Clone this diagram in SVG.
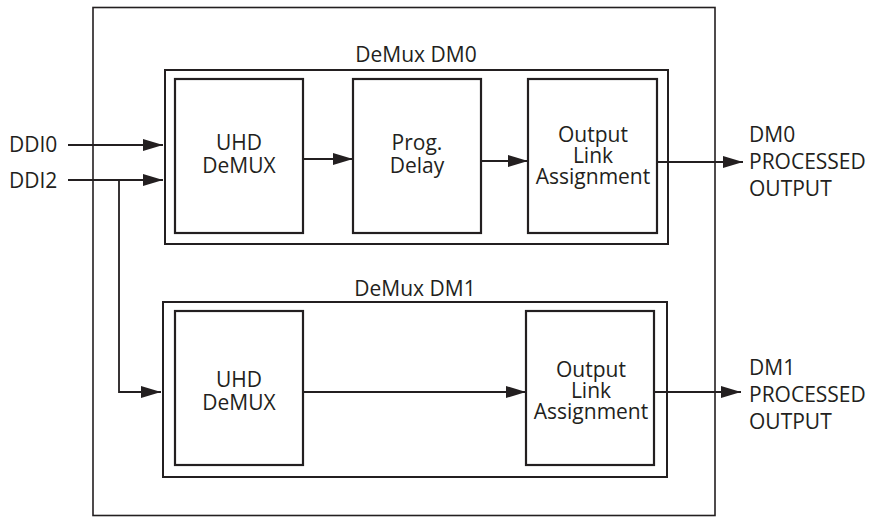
<svg xmlns="http://www.w3.org/2000/svg" width="869" height="517" viewBox="0 0 869 517">
<defs>
<style>
text{font-family:"Open Sans","Liberation Sans",sans-serif;font-size:21px;fill:#231f20}
.c{text-anchor:middle}
.outer{fill:none;stroke:#231f20;stroke-width:1.6}
.grp{fill:none;stroke:#231f20;stroke-width:2}
.blk{fill:#fff;stroke:#231f20;stroke-width:2.2}
.wire{fill:none;stroke:#231f20;stroke-width:1.8}
</style>
<marker id="ah" markerUnits="userSpaceOnUse" markerWidth="20" markerHeight="12" refX="20" refY="6" orient="auto">
<path d="M0,0 L20,6 L0,12 z" fill="#231f20"/>
</marker>
</defs>
<rect width="869" height="517" fill="#fff"/>
<g id="system"><rect class="outer" x="93" y="7.5" width="622" height="508"/></g>
<g id="dm0">
<rect class="grp" x="165" y="70" width="503" height="174"/>
<text class="c" x="416" y="62">DeMux DM0</text>
</g>
<g id="dm0-uhd"><rect class="blk" x="175" y="79" width="128" height="154"/><text class="c" x="239" y="150">UHD</text><text class="c" x="239" y="173">DeMUX</text></g>
<g id="dm0-delay"><rect class="blk" x="353" y="79" width="128" height="154"/><text class="c" x="417" y="150">Prog.</text><text class="c" x="417" y="173">Delay</text></g>
<g id="dm0-out"><rect class="blk" x="528" y="79" width="129" height="154"/><text class="c" x="593" y="142">Output</text><text class="c" x="593" y="163">Link</text><text class="c" x="593" y="184">Assignment</text></g>
<g id="dm1">
<rect class="grp" x="163" y="302" width="504" height="175"/>
<text class="c" x="415" y="296">DeMux DM1</text>
</g>
<g id="dm1-uhd"><rect class="blk" x="175" y="311" width="128" height="154"/><text class="c" x="239" y="387">UHD</text><text class="c" x="239" y="410">DeMUX</text></g>
<g id="dm1-out"><rect class="blk" x="526" y="311" width="128" height="154"/><text class="c" x="591" y="377">Output</text><text class="c" x="591" y="398">Link</text><text class="c" x="591" y="419">Assignment</text></g>
<g id="ddi0"><text x="9" y="152">DDI0</text></g>
<g id="ddi2"><text x="9" y="188">DDI2</text></g>
<g id="out0"><text x="749" y="142">DM0</text><text x="749" y="169">PROCESSED</text><text x="749" y="196">OUTPUT</text></g>
<g id="out1"><text x="749" y="375">DM1</text><text x="749" y="402">PROCESSED</text><text x="749" y="429">OUTPUT</text></g>
<g id="connectors">
<path class="wire" d="M68,145 H163" marker-end="url(#ah)"/>
<path class="wire" d="M68,180 H163" marker-end="url(#ah)"/>
<path class="wire" d="M119,180 V392 H161" marker-end="url(#ah)"/>
<path class="wire" d="M303,159 H353" marker-end="url(#ah)"/>
<path class="wire" d="M481,161 H528" marker-end="url(#ah)"/>
<path class="wire" d="M657,162 H743" marker-end="url(#ah)"/>
<path class="wire" d="M303,392 H526" marker-end="url(#ah)"/>
<path class="wire" d="M654,392 H741" marker-end="url(#ah)"/>
</g>
</svg>
